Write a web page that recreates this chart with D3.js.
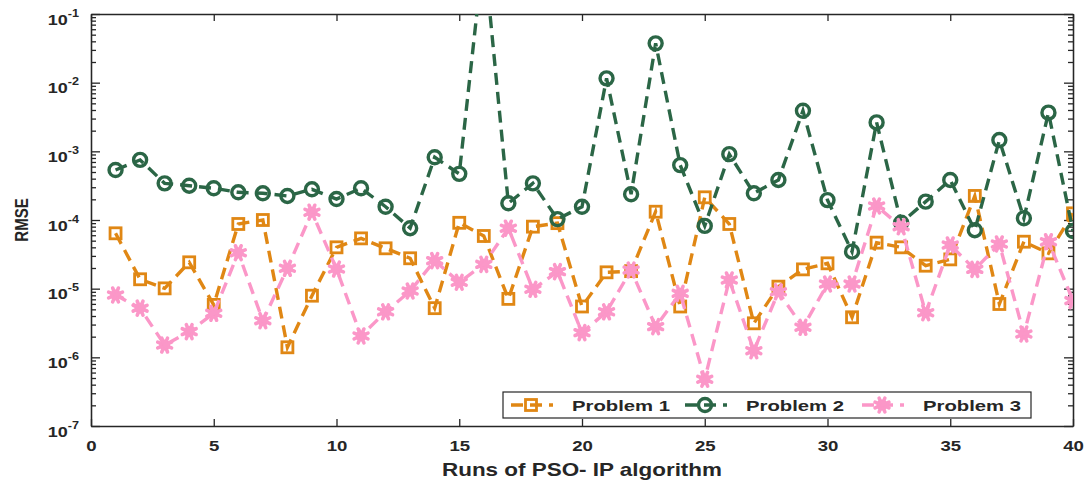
<!DOCTYPE html>
<html>
<head>
<meta charset="utf-8">
<script src="https://cdn.jsdelivr.net/npm/d3@7"></script>
<style>
  body { margin: 0; background: #fff; }
  text { font-family: "Liberation Sans", Arial, sans-serif; font-weight: bold; fill: #262626; }
</style>
</head>
<body>
<script>
// runs 1..40
var runs = d3.range(1, 41);

var problem1 = [
  6.4e-5, 1.37e-5, 1.01e-5, 2.42e-5, 5.8e-6, 8.75e-5, 1.0e-4, 1.4e-6, 7.9e-6, 4.0e-5,
  5.4e-5, 3.87e-5, 2.77e-5, 5.2e-6, 9.1e-5, 5.85e-5, 7.1e-6, 8.0e-5, 9.0e-5, 5.5e-6,
  1.73e-5, 1.8e-5, 1.32e-4, 5.5e-6, 2.14e-4, 8.75e-5, 3.13e-6, 1.07e-5, 1.91e-5, 2.34e-5,
  3.83e-6, 4.68e-5, 4.0e-5, 2.16e-5, 2.67e-5, 2.24e-4, 5.98e-6, 4.83e-5, 3.27e-5, 1.25e-4
];
var problem2 = [
  5.35e-4, 7.5e-4, 3.42e-4, 3.16e-4, 2.9e-4, 2.53e-4, 2.45e-4, 2.24e-4, 2.8e-4, 2.02e-4,
  2.9e-4, 1.56e-4, 7.6e-5, 8.2e-4, 4.7e-4, 0.85, 1.75e-4, 3.42e-4, 1.03e-4, 1.56e-4,
  1.155e-2, 2.37e-4, 3.74e-2, 6.3e-4, 8.2e-5, 9.1e-4, 2.45e-4, 3.83e-4, 3.9e-3, 1.95e-4,
  3.46e-5, 2.64e-3, 9.1e-5, 1.85e-4, 3.83e-4, 7.1e-5, 1.46e-3, 1.06e-4, 3.66e-3, 6.9e-5
];
var problem3 = [
  8.1e-6, 5.2e-6, 1.51e-6, 2.37e-6, 4.38e-6, 3.34e-5, 3.42e-6, 1.98e-5, 1.3e-4, 1.93e-5,
  2.05e-6, 4.6e-6, 9.25e-6, 2.56e-5, 1.24e-5, 2.26e-5, 7.6e-5, 9.8e-6, 1.77e-5, 2.29e-6,
  4.6e-6, 1.87e-5, 2.8e-6, 8.55e-6, 4.8e-7, 1.34e-5, 1.25e-6, 9.0e-6, 2.74e-6, 1.17e-5,
  1.17e-5, 1.6e-4, 8.0e-5, 4.47e-6, 4.33e-5, 1.91e-5, 4.48e-5, 2.19e-6, 4.83e-5, 6.7e-6
];

var seriesNames = ['Problem 1', 'Problem 2', 'Problem 3'];
var xTicks = [0, 5, 10, 15, 20, 25, 30, 35, 40];
var yTicks = [1e-7, 1e-6, 1e-5, 1e-4, 1e-3, 1e-2, 1e-1];

var colors = ['#e08714', '#2b6646', '#fb97c8'];
var markers = ['square', 'circle', 'star'];

var width = 1089, height = 483;
var L = 91, R = 1073, T = 14, B = 426;
var stretch = 1.2; // the figure text is a bit wide

var svg = d3.select('body').append('svg').attr('width', width).attr('height', height);

var x = d3.scaleLinear().domain([0, 40]).range([L, R]);
var y = d3.scaleLog().domain([1e-7, 1e-1]).range([B, T]);

// minor log ticks
var yMinor = [];
yTicks.slice(0, -1).forEach(function(t) {
  for (var k = 2; k <= 9; k++) yMinor.push(t * k);
});

svg.append('clipPath').attr('id', 'plotclip')
  .append('rect').attr('x', L).attr('y', T).attr('width', R - L).attr('height', B - T);

function styleAxis(g) {
  g.selectAll('.domain').attr('stroke', '#262626').attr('stroke-width', 1.3);
  g.selectAll('.tick line').attr('stroke', '#262626').attr('stroke-width', 1.3);
}

// left axis
var gl = svg.append('g').attr('transform', 'translate(' + L + ',0)')
  .call(d3.axisLeft(y).tickValues(yTicks).tickSizeInner(-9).tickSizeOuter(0).tickFormat(''));
styleAxis(gl);
gl.selectAll('.tick text').each(function(d) {
  var t = d3.select(this).attr('x', 0).attr('dy', null).attr('y', 10)
    .attr('transform', 'translate(-12,0) scale(' + stretch + ',1)')
    .attr('text-anchor', 'end').style('font-size', '15px');
  t.append('tspan').text('10');
  t.append('tspan').attr('dy', -8).style('font-size', '10.5px').text('-' + Math.round(-Math.log10(d)));
});
var glm = svg.append('g').attr('transform', 'translate(' + L + ',0)')
  .call(d3.axisLeft(y).tickValues(yMinor).tickSizeInner(-5).tickSizeOuter(0).tickFormat(''));
styleAxis(glm);

// right axis
var gr = svg.append('g').attr('transform', 'translate(' + R + ',0)')
  .call(d3.axisRight(y).tickValues(yTicks).tickSizeInner(-9).tickSizeOuter(0).tickFormat(''));
styleAxis(gr);
var grm = svg.append('g').attr('transform', 'translate(' + R + ',0)')
  .call(d3.axisRight(y).tickValues(yMinor).tickSizeInner(-5).tickSizeOuter(0).tickFormat(''));
styleAxis(grm);

// bottom axis
var gb = svg.append('g').attr('transform', 'translate(0,' + B + ')')
  .call(d3.axisBottom(x).tickValues(xTicks).tickSizeInner(-7).tickSizeOuter(0).tickPadding(14));
styleAxis(gb);
gb.selectAll('.tick text').style('font-size', '15.5px').attr('fill', '#262626')
  .attr('transform', 'scale(' + stretch + ',1)');

// top axis
var gt = svg.append('g').attr('transform', 'translate(0,' + T + ')')
  .call(d3.axisTop(x).tickValues(xTicks).tickSizeInner(-7).tickSizeOuter(0).tickFormat(''));
styleAxis(gt);

// axis titles
svg.append('text').attr('x', (L + R) / 2).attr('y', 476)
  .attr('text-anchor', 'middle').style('font-size', '18.5px')
  .attr('textLength', 280).attr('lengthAdjust', 'spacingAndGlyphs')
  .text('Runs of PSO- IP algorithm');
svg.append('text').attr('transform', 'translate(28,' + (T + B) / 2 + ') rotate(-90) scale(1,' + stretch + ')')
  .attr('text-anchor', 'middle').style('font-size', '15px')
  .text('RMSE');

// marker drawing
function drawMarker(g, type, color) {
  if (type === 'square') {
    g.append('rect').attr('x', -5.5).attr('y', -5.5).attr('width', 11).attr('height', 11)
      .attr('fill', 'none').attr('stroke', color).attr('stroke-width', 2.8);
  } else if (type === 'circle') {
    g.append('circle').attr('r', 6.5)
      .attr('fill', 'none').attr('stroke', color).attr('stroke-width', 3.4);
  } else {
    g.append('circle').attr('r', 5.5).attr('fill', color);
    for (var a = 0; a < 8; a++) {
      var ang = a * Math.PI / 4 + Math.PI / 8;
      g.append('line').attr('x1', 0).attr('y1', 0)
        .attr('x2', 7.5 * Math.cos(ang)).attr('y2', 7.5 * Math.sin(ang))
        .attr('stroke', color).attr('stroke-width', 3.6).attr('stroke-linecap', 'round');
    }
  }
}

var allSeries = [problem1, problem2, problem3];
var line = d3.line()
  .x(function(d, i) { return x(runs[i]); })
  .y(function(d) { return y(d); });

var plot = svg.append('g').attr('clip-path', 'url(#plotclip)');
allSeries.forEach(function(vals, s) {
  plot.append('path').datum(vals).attr('d', line)
    .attr('fill', 'none').attr('stroke', colors[s])
    .attr('stroke-width', 3.4).attr('stroke-dasharray', '12,7');
  vals.forEach(function(v, i) {
    var g = plot.append('g').attr('transform', 'translate(' + x(runs[i]) + ',' + y(v) + ')');
    drawMarker(g, markers[s], colors[s]);
  });
});

// legend
var lg = svg.append('g');
lg.append('rect').attr('x', 503).attr('y', 392).attr('width', 528).attr('height', 26)
  .attr('fill', '#fff').attr('stroke', '#262626').attr('stroke-width', 1.2);
var legX = [509, 683, 860];
seriesNames.forEach(function(name, s) {
  var x0 = legX[s], cy = 405;
  lg.append('line').attr('x1', x0).attr('x2', x0 + 44).attr('y1', cy).attr('y2', cy)
    .attr('stroke', colors[s]).attr('stroke-width', 3.4).attr('stroke-dasharray', '12,7')
    .attr('stroke-dashoffset', -2);
  var m = lg.append('g').attr('transform', 'translate(' + (x0 + 22) + ',' + cy + ')');
  drawMarker(m, markers[s], colors[s]);
  lg.append('text').attr('x', x0 + 63).attr('y', cy + 6)
    .style('font-size', '15.5px').attr('textLength', 98).attr('lengthAdjust', 'spacingAndGlyphs')
    .text(name);
});
</script>
</body>
</html>
